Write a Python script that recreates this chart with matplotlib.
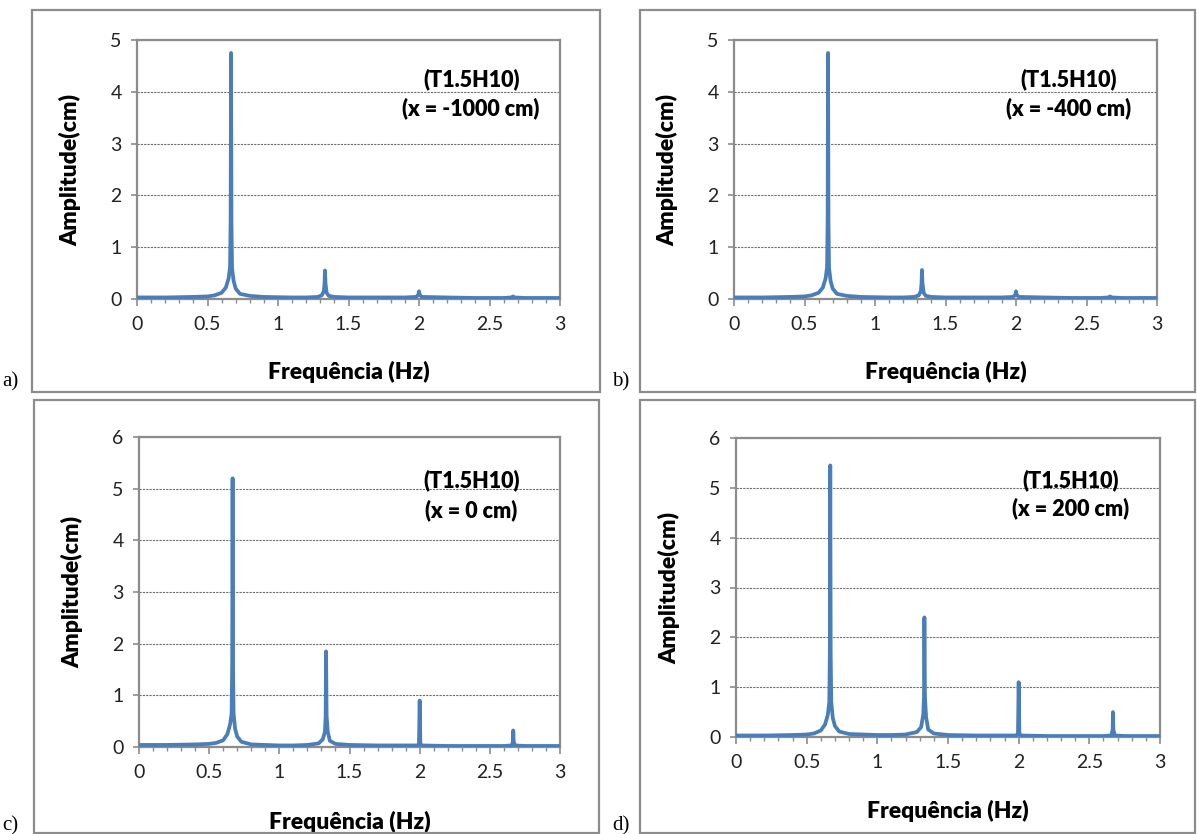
import matplotlib.pyplot as plt
from matplotlib.patches import Rectangle
from matplotlib.ticker import MultipleLocator

# frequency samples (Hz)
freq = [0, 0.2, 0.4, 0.5, 0.55, 0.6, 0.63, 0.65, 0.66, 0.664, 0.667, 0.670,
        0.674, 0.685, 0.70, 0.73, 0.8, 0.9, 1.0, 1.1, 1.2, 1.28, 1.31, 1.325,
        1.33, 1.333, 1.337, 1.345, 1.36, 1.4, 1.5, 1.7, 1.9, 1.98, 1.995, 2.0,
        2.005, 2.02, 2.2, 2.4, 2.6, 2.655, 2.665, 2.667, 2.67, 2.68, 2.75, 3.0]

amp_a = [0.03, 0.03, 0.04, 0.05, 0.07, 0.12, 0.22, 0.40, 0.62, 1.5, 4.75, 1.5,
         0.60, 0.35, 0.20, 0.10, 0.06, 0.04, 0.035, 0.03, 0.03, 0.04, 0.07, 0.15,
         0.30, 0.55, 0.30, 0.12, 0.06, 0.04, 0.03, 0.03, 0.03, 0.04, 0.08, 0.15,
         0.08, 0.04, 0.03, 0.02, 0.02, 0.03, 0.04, 0.05, 0.04, 0.03, 0.02, 0.02]

amp_b = [0.03, 0.03, 0.04, 0.05, 0.07, 0.12, 0.22, 0.40, 0.62, 1.5, 4.75, 1.5,
         0.60, 0.35, 0.20, 0.10, 0.06, 0.04, 0.035, 0.03, 0.03, 0.04, 0.07, 0.15,
         0.30, 0.56, 0.30, 0.12, 0.06, 0.04, 0.03, 0.03, 0.03, 0.04, 0.08, 0.15,
         0.08, 0.04, 0.03, 0.02, 0.02, 0.03, 0.04, 0.05, 0.04, 0.03, 0.02, 0.02]

amp_c = [0.04, 0.04, 0.05, 0.06, 0.08, 0.13, 0.25, 0.45, 0.65, 1.6, 5.2, 1.6,
         0.65, 0.35, 0.20, 0.10, 0.05, 0.04, 0.03, 0.03, 0.04, 0.07, 0.15, 0.30,
         0.60, 1.85, 0.60, 0.30, 0.12, 0.06, 0.04, 0.03, 0.03, 0.03, 0.05, 0.90,
         0.05, 0.03, 0.02, 0.02, 0.02, 0.03, 0.10, 0.32, 0.10, 0.03, 0.02, 0.02]

amp_d = [0.03, 0.03, 0.04, 0.05, 0.07, 0.13, 0.25, 0.45, 0.70, 1.7, 5.45, 1.7,
         0.70, 0.38, 0.22, 0.11, 0.06, 0.05, 0.04, 0.04, 0.05, 0.10, 0.20, 0.45,
         0.80, 2.4, 0.80, 0.40, 0.15, 0.07, 0.04, 0.03, 0.03, 0.03, 0.06, 1.1,
         0.06, 0.03, 0.02, 0.02, 0.02, 0.03, 0.15, 0.50, 0.15, 0.03, 0.02, 0.02]

positions = ["x = -1000 cm", "x = -400 cm", "x = 0 cm", "x = 200 cm"]
letters = ["a)", "b)", "c)", "d)"]
ymax = [5, 5, 6, 6]

W, H = 1197, 834
fig = plt.figure(figsize=(W / 100, H / 100), dpi=100)


def px(x0, y0, x1, y1):
    # pixel box (top-left origin) -> figure fraction rect
    return [x0 / W, 1 - y1 / H, (x1 - x0) / W, (y1 - y0) / H]


boxes = [px(32, 10, 600, 392), px(640, 10, 1195, 392),
         px(34, 400, 599, 833), px(640, 400, 1195, 833)]
axes_rects = [px(137, 40, 560, 299), px(734, 40, 1157, 299),
              px(139, 437, 560, 747), px(736, 438, 1160, 737)]
letter_pos = [(2, 382), (612, 382), (2, 826), (612, 826)]
xlabel_pad = [20, 20, 22, 21]

gray = "#8c8c8c"
blue = "#4a7ebb"

for i, amp in enumerate([amp_a, amp_b, amp_c, amp_d]):
    bx = boxes[i]
    fig.patches.append(Rectangle((bx[0], bx[1]), bx[2], bx[3], transform=fig.transFigure,
                                 fill=False, edgecolor=gray, linewidth=1.6))
    lx, ly = letter_pos[i]
    fig.text(lx / W, 1 - ly / H, letters[i], family="Liberation Serif", fontsize=15,
             va="center", ha="left")

    ax = fig.add_axes(axes_rects[i])
    ax.plot(freq, amp, color=blue, linewidth=2.7, solid_joinstyle="round", zorder=3)
    ax.set_xlim(0, 3)
    ax.set_ylim(0, ymax[i])
    ax.xaxis.set_major_locator(MultipleLocator(0.5))
    ax.xaxis.set_minor_locator(MultipleLocator(0.1))
    ax.yaxis.set_major_locator(MultipleLocator(1))
    ax.set_xticks([0, 0.5, 1, 1.5, 2, 2.5, 3])
    ax.set_xticklabels(["0", "0.5", "1", "1.5", "2", "2.5", "3"])
    ax.grid(axis="y", color="#6e6e6e", linestyle=(0, (2, 1)), linewidth=0.8)
    for s in ax.spines.values():
        s.set_color(gray)
        s.set_linewidth(1.6)
    ax.tick_params(which="major", length=5, width=1.2, color=gray, labelsize=14,
                   labelcolor="#222222", pad=7, labelfontfamily="Lato")
    ax.tick_params(which="minor", axis="x", length=3, width=1.0, color=gray)
    ax.tick_params(axis="y", length=4, pad=7)
    ax.set_xlabel("Frequência (Hz)", family="Lato", fontweight="heavy", fontsize=16.5,
                  labelpad=xlabel_pad[i])
    ax.set_ylabel("Amplitude(cm)", family="Lato", fontweight="heavy", fontsize=16.5,
                  labelpad=21)
    ax.text(0.79, 0.85 if ymax[i] == 5 else 0.86, "(T1.5H10)", transform=ax.transAxes,
            family="Lato", fontweight="heavy", fontsize=15.5, ha="center", va="center")
    ax.text(0.79, 0.735 if ymax[i] == 5 else 0.765, "(" + positions[i] + ")",
            transform=ax.transAxes, family="Lato", fontweight="heavy", fontsize=15.5,
            ha="center", va="center")

fig.savefig("out.png", dpi=100)
